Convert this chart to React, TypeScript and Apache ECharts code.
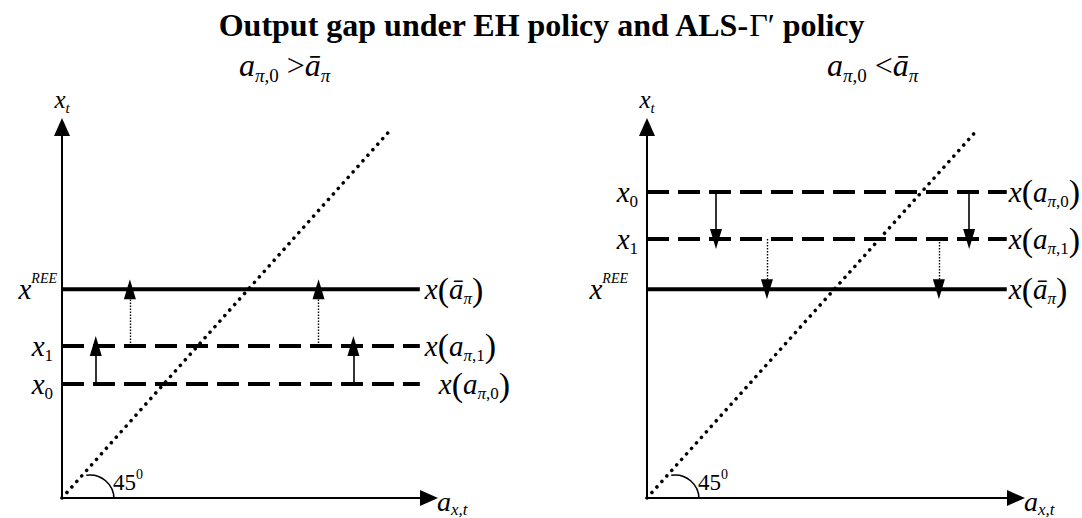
import React, { useEffect, useRef } from "react";
import * as echarts from "echarts";

const FONT = "'Liberation Serif', serif";

// Output-gap levels on the vertical axis (axis units 0–100): x0, x1, xREE
const levelKeys = ["x0", "x1", "xREE"];
const leftLevels = [30.7, 41.0, 56.3];
const rightLevels = [82.5, 69.8, 56.3];

// Horizontal extent of the policy lines
const lineStartX = 0;
const lineEndX = 97.5;

// 45-degree reference line (dotted)
const diagonalX = [0, 89.5];
const diagonalY = [0, 99.2];

// Positions of the adjustment arrows along the horizontal axis
const leftSolidArrowX = [9.2, 79.4];
const leftDottedArrowX = [18.5, 69.9];
const rightSolidArrowX = [18.7, 87.3];
const rightDottedArrowX = [32.5, 79.1];

// Rich-text labels
const levelAxisLabels: Record<string, string> = {
  x0: "{i|x}{subn|0}",
  x1: "{i|x}{subn|1}",
  xREE: "{i|x}{sup|REE}",
};
const lineEndLabels: Record<string, string> = {
  x0: "{i|x}{p|(}{i|a}{sub|π}{subn|,0}{p|)}",
  x1: "{i|x}{p|(}{i|a}{sub|π}{subn|,1}{p|)}",
  xREE: "{i|x}{p|(}{i|ā}{sub|π}{p|)}",
};
const titleText = "Output gap under EH policy and ALS-{g|Γ′} policy";
const leftSubtitle = "{bi|a}{bsub|π}{bsubn|,0}{bop| >}{bi|ā}{bsub|π}";
const rightSubtitle = "{bi|a}{bsub|π}{bsubn|,0}{bop| <}{bi|ā}{bsub|π}";
const yAxisName = "{ai|x}{asub|t}";
const xAxisName = "{xi|a}{xsub|x,t}";
const angleLabel = "{n|45}{sup0|0}";

const base = { fontFamily: FONT, fontWeight: "normal", color: "#000" };
const rich = {
  i: { ...base, fontStyle: "italic", fontSize: 29, lineHeight: 36, verticalAlign: "middle" },
  ai: { ...base, fontStyle: "italic", fontSize: 25, lineHeight: 32, verticalAlign: "middle" },
  asub: { ...base, fontStyle: "italic", fontSize: 15, lineHeight: 15, verticalAlign: "bottom" },
  xi: { ...base, fontStyle: "italic", fontSize: 28, lineHeight: 34, verticalAlign: "middle" },
  xsub: { ...base, fontStyle: "italic", fontSize: 17, lineHeight: 16, verticalAlign: "bottom" },
  bi: { ...base, fontStyle: "italic", fontSize: 32, lineHeight: 40, verticalAlign: "middle" },
  bop: { ...base, fontSize: 32, lineHeight: 40, verticalAlign: "middle" },
  bsub: { ...base, fontStyle: "italic", fontSize: 19, lineHeight: 19, verticalAlign: "bottom" },
  bsubn: { ...base, fontSize: 19, lineHeight: 19, verticalAlign: "bottom" },
  n: { ...base, fontSize: 23, lineHeight: 30, verticalAlign: "middle" },
  sub: { ...base, fontStyle: "italic", fontSize: 17, lineHeight: 17, verticalAlign: "bottom" },
  subn: { ...base, fontSize: 17, lineHeight: 17, verticalAlign: "bottom" },
  sup: { ...base, fontStyle: "italic", fontSize: 14, lineHeight: 14, verticalAlign: "top" },
  sup0: { ...base, fontSize: 14, lineHeight: 14, verticalAlign: "top" },
  p: { ...base, fontSize: 34, lineHeight: 36, verticalAlign: "middle" },
  gap: { width: 4, lineHeight: 36 },
  gapL: { width: 14, lineHeight: 36 },
};
const textBase = { ...base, fontSize: 26, rich };

const leftLabelGaps: Record<string, string> = { x0: "{gap| }", x1: "{gap| }", xREE: "" };
const rightLabelGaps: Record<string, string> = { x0: "{gap| }", x1: "{gap| }", xREE: "{gapL| }" };
const leftEndDistances: Record<string, number> = { x0: 19, x1: 5, xREE: 5 };
const rightEndDistances: Record<string, number> = { x0: 2, x1: 2, xREE: 2 };

function axesFor(gridIndex: number, levels: number[], gaps: Record<string, string>) {
  const lookup = new Map<number, string>();
  levels.forEach((v, k) => lookup.set(v, levelAxisLabels[levelKeys[k]] + gaps[levelKeys[k]]));
  const axisLine = {
    show: true,
    onZero: false,
    symbol: ["none", "triangle"],
    symbolSize: [16, 18],
    lineStyle: { color: "#000", width: 2 },
  };
  const xAxis = {
    gridIndex,
    type: "value",
    min: 0,
    max: 100,
    axisLine,
    axisTick: { show: false },
    axisLabel: { show: false },
    splitLine: { show: false },
    name: xAxisName,
    nameLocation: "end",
    nameGap: 8,
    nameTextStyle: { ...textBase, padding: [6, 0, 0, 0] },
  };
  const yAxis = {
    gridIndex,
    type: "value",
    min: 0,
    max: 100,
    axisLine,
    axisTick: { show: false },
    splitLine: { show: false },
    axisLabel: {
      show: true,
      customValues: levels,
      margin: 5,
      formatter: (v: number) => lookup.get(v) ?? "",
      ...textBase,
    },
    name: yAxisName,
    nameLocation: "end",
    nameGap: 12,
    nameTextStyle: { ...textBase },
  };
  return { xAxis, yAxis };
}

function seriesFor(
  idx: number,
  levels: number[],
  solidX: number[],
  dottedX: number[],
  distances: Record<string, number>
) {
  const out: any[] = [];
  levels.forEach((y, k) => {
    const key = levelKeys[k];
    out.push({
      type: "line",
      name: `${key}-${idx}`,
      xAxisIndex: idx,
      yAxisIndex: idx,
      data: [
        [lineStartX, y],
        [lineEndX, y],
      ],
      symbol: "none",
      silent: true,
      lineStyle: { color: "#000", width: 4, type: key === "xREE" ? "solid" : [22, 9] },
      endLabel: {
        show: true,
        formatter: () => lineEndLabels[key],
        distance: distances[key],
        ...textBase,
      },
    });
  });
  out.push({
    type: "line",
    name: `diagonal-${idx}`,
    xAxisIndex: idx,
    yAxisIndex: idx,
    data: diagonalX.map((x, k) => [x, diagonalY[k]]),
    symbol: "none",
    silent: true,
    lineStyle: { color: "#000", width: 3.6, type: [0.01, 7.4], cap: "round" },
  });
  const [y0, y1, yREE] = levels;
  const arrowCommon = {
    type: "lines",
    coordinateSystem: "cartesian2d",
    xAxisIndex: idx,
    yAxisIndex: idx,
    silent: true,
    symbol: ["none", "triangle"],
    symbolSize: [0, [12, 20]],
    symbolOffset: [0, [0, 10]],
  };
  out.push({
    ...arrowCommon,
    name: `solid-arrows-${idx}`,
    lineStyle: { color: "#000", width: 1.6, type: "solid", opacity: 1 },
    data: solidX.map((x) => ({ coords: [[x, y0], [x, y1]] })),
  });
  out.push({
    ...arrowCommon,
    name: `dotted-arrows-${idx}`,
    lineStyle: { color: "#000", width: 1.4, type: [1.5, 1.5], opacity: 1 },
    data: dottedX.map((x) => ({ coords: [[x, y1], [x, yREE]] })),
  });
  return out;
}

export default function App() {
  const ref = useRef<HTMLDivElement>(null);

  useEffect(() => {
    if (!ref.current) return;
    const chart = echarts.init(ref.current, undefined, { renderer: "svg" });
    const left = axesFor(0, leftLevels, leftLabelGaps);
    const right = axesFor(1, rightLevels, rightLabelGaps);

    chart.setOption({
      animation: false,
      backgroundColor: "#fff",
      textStyle: { fontFamily: FONT },
      title: [
        {
          text: titleText,
          left: "center",
          top: 4,
          textStyle: {
            fontFamily: FONT,
            fontWeight: "bold",
            fontSize: 32,
            color: "#000",
            rich: { g: { fontFamily: FONT, fontWeight: "normal", fontSize: 32, color: "#000" } },
          },
        },
        { text: leftSubtitle, left: 234, top: 40, textStyle: { ...textBase } },
        { text: rightSubtitle, left: 822, top: 40, textStyle: { ...textBase } },
      ],
      grid: [
        { left: 62, top: 127, width: 367, height: 378 },
        { left: 647, top: 127, width: 369, height: 378 },
      ],
      xAxis: [left.xAxis, right.xAxis],
      yAxis: [left.yAxis, right.yAxis],
      series: [
        ...seriesFor(0, leftLevels, leftSolidArrowX, leftDottedArrowX, leftEndDistances),
        ...seriesFor(1, rightLevels, rightSolidArrowX, rightDottedArrowX, rightEndDistances),
      ],
    });

    // 45-degree angle marks anchored at each panel's origin
    const graphics: any[] = [];
    [0, 1].forEach((g) => {
      const o = chart.convertToPixel({ gridIndex: g }, [0, 0]) as number[];
      graphics.push({
        type: "arc",
        silent: true,
        shape: { cx: o[0] + 28, cy: o[1] + 1, r: 24, startAngle: -Math.PI * 0.55, endAngle: 0, clockwise: true },
        style: { stroke: "#000", lineWidth: 1.6, fill: "none" },
      });
      graphics.push({
        type: "text",
        silent: true,
        x: o[0] + 51,
        y: o[1] - 16,
        style: { text: angleLabel, rich, fontFamily: FONT, verticalAlign: "middle", align: "left" },
      });
    });
    chart.setOption({ graphic: graphics });

    return () => chart.dispose();
  }, []);

  return (
    <div
      ref={ref}
      style={{ position: "fixed", left: 0, top: 0, width: 1082, height: 518, background: "#fff" }}
    />
  );
}
